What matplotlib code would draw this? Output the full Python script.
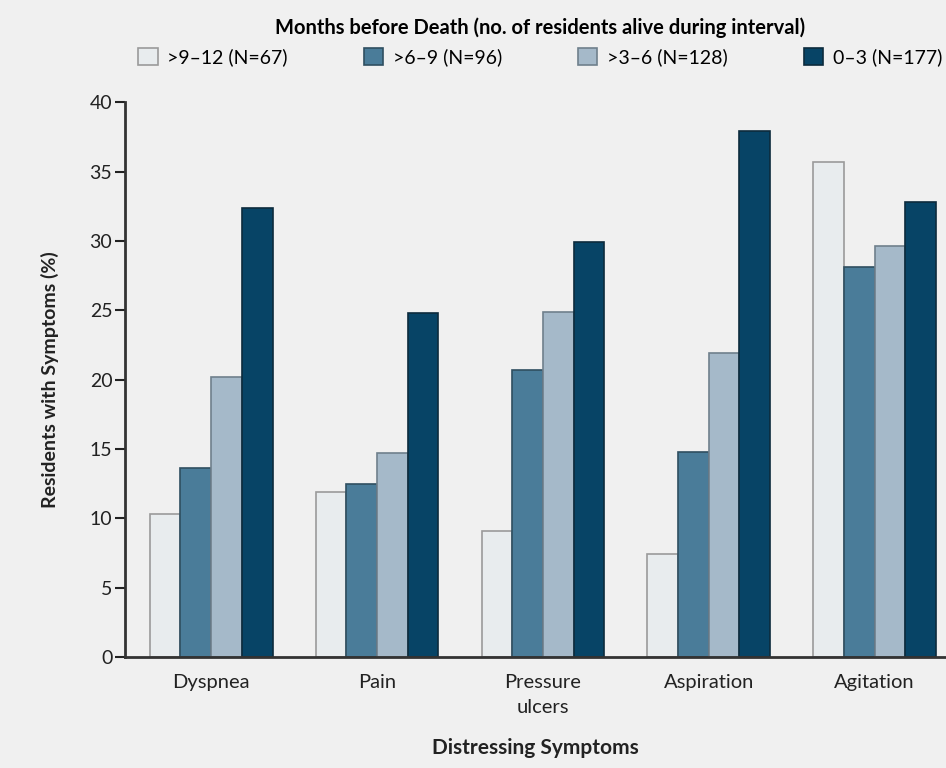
import numpy as np
import matplotlib
matplotlib.use("Agg")
import matplotlib.pyplot as plt

categories = ["Dyspnea", "Pain", "Pressure\nulcers", "Aspiration", "Agitation"]
series_labels = [">9\u201312 (N=67)", ">6\u20139 (N=96)", ">3\u20136 (N=128)", "0\u20133 (N=177)"]
values = {
    ">9\u201312 (N=67)": [10.3, 11.9, 9.1, 7.4, 35.7],
    ">6\u20139 (N=96)": [13.6, 12.5, 20.7, 14.8, 28.1],
    ">3\u20136 (N=128)": [20.2, 14.7, 24.9, 21.9, 29.6],
    "0\u20133 (N=177)": [32.4, 24.8, 29.9, 37.9, 32.8],
}
y_ticks = [0, 5, 10, 15, 20, 25, 30, 35, 40]

fills = ["#e8ecee", "#4a7c99", "#a5b9c9", "#074466"]
edges = ["#9a9a9a", "#2f4f60", "#6f808c", "#0c2b3c"]
bg = "#f0f0f0"

plt.rcParams["font.family"] = ["Lato", "DejaVu Sans"]

fig = plt.figure(figsize=(9.46, 7.68), dpi=100, facecolor=bg)
ax = fig.add_axes([0.132, 0.1445, 0.868, 0.7225], facecolor=bg)

x = np.arange(len(categories))
w = 0.185
for i, lab in enumerate(series_labels):
    ax.bar(x + (i - 1.5) * w, values[lab], width=w, color=fills[i],
           edgecolor=edges[i], linewidth=1.2, label=lab)

ax.set_xlim(-0.52, 4.43)
ax.set_ylim(0, 40)
ax.set_yticks(y_ticks)
ax.set_xticks(x)
ax.set_xticklabels(categories, fontsize=14.5, color="#222222", linespacing=1.6)
ax.tick_params(axis="x", length=0, pad=12)
ax.tick_params(axis="y", length=7, width=1.5, direction="out", labelsize=14,
               colors="#222222", pad=2)
for s in ["top", "right"]:
    ax.spines[s].set_visible(False)
for s in ["left", "bottom"]:
    ax.spines[s].set_linewidth(2)
    ax.spines[s].set_color("#333333")

ax.set_ylabel("Residents with Symptoms (%)", fontsize=14, fontweight="bold",
              color="#222222", labelpad=22)
ax.set_xlabel("Distressing Symptoms", fontsize=15, fontweight="bold",
              color="#222222", labelpad=16)

leg = fig.legend(loc="upper center", bbox_to_anchor=(0.571, 1.0), ncol=4,
                 frameon=False, fontsize=14, handlelength=1.0, handleheight=1.0,
                 columnspacing=3.9, handletextpad=0.5,
                 title="Months before Death (no. of residents alive during interval)",
                 title_fontproperties={"size": 14.5, "weight": "bold"})

fig.savefig("out.png", dpi=100, facecolor=bg)
